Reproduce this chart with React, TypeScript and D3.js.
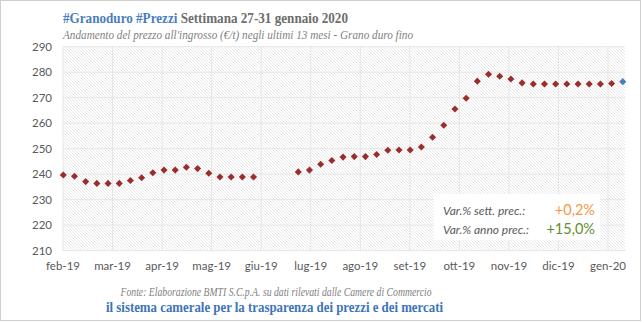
import React from "react";
import * as d3 from "d3";

// Weekly wholesale price of "Grano duro fino" (€/t), feb-2019 .. 27 gen 2020 (null = not quoted)
const prices: (number | null)[] = [
  239.7, 239.2, 237.1, 236.4, 236.4, 236.4, 237.5, 238.6, 240.6, 241.6,
  241.6, 242.7, 242.2, 240.4, 238.9, 238.9, 238.9, 238.9, null, null,
  null, 240.9, 241.6, 243.9, 245.4, 246.7, 246.9, 246.9, 247.7, 249.4,
  249.5, 249.5, 250.7, 254.5, 259.2, 265.6, 269.8, 276.5, 279.2, 278.4,
  277.3, 275.8, 275.4, 275.4, 275.4, 275.4, 275.4, 275.4, 275.4, 275.6,
  276.3,
];
const monthLabels = [
  "feb-19", "mar-19", "apr-19", "mag-19", "giu-19", "lug-19",
  "ago-19", "set-19", "ott-19", "nov-19", "dic-19", "gen-20",
];
const yTicks = [210, 220, 230, 240, 250, 260, 270, 280, 290];
const titleTag = "#Granoduro #Prezzi";
const titleRest = " Settimana 27-31 gennaio 2020";
const subtitle = "Andamento del prezzo all'ingrosso (€/t) negli ultimi 13 mesi - Grano duro fino";
const source = "Fonte: Elaborazione BMTI S.C.p.A. su dati rilevati dalle Camere di Commercio";
const slogan = "il sistema camerale per la trasparenza dei prezzi e dei mercati";
const varLabels = ["Var.% sett. prec.:", "Var.% anno prec.:"];
const varValues = ["+0,2%", "+15,0%"];

const W = 644;
const H = 323;
const plot = { left: 63, right: 625, top: 46.7, bottom: 250.7 };

export default function App() {
  const x = d3.scaleLinear().domain([0, prices.length - 1]).range([63.3, 622.8]);
  const xm = d3.scalePoint<string>().domain(monthLabels).range([63, 608]);
  const y = d3.scaleLinear().domain([210, 290]).range([plot.bottom, plot.top]);
  const diamond = d3.symbol(d3.symbolSquare, 25)()!;
  const lastIdx = prices.length - 1;
  const sans = "Lato, 'Liberation Sans', sans-serif";
  const serif = "'Liberation Serif', 'DejaVu Serif', serif";

  return (
    <svg width={W} height={H} style={{ position: "absolute", left: 0, top: 0 }}>
      <defs>
        <pattern id="hatch" width="3" height="3" patternUnits="userSpaceOnUse">
          <rect width="3" height="3" fill="#ffffff" />
          <path d="M-1,-1 L4,4 M-1,2 L1,4 M2,-1 L4,1" stroke="#e3e3e3" strokeWidth="0.8" />
        </pattern>
      </defs>
      <rect x={0} y={0} width={W} height={H} fill="#ffffff" />
      <rect x={0.5} y={0.5} width={640} height={320} fill="#ffffff" stroke="#cfcfcf" />

      {/* Titles */}
      <text x={63} y={22.5} fontFamily={serif} fontWeight="bold" fontSize={14.5} textLength={285} lengthAdjust="spacingAndGlyphs">
        <tspan fill="#4a7ebb">{titleTag}</tspan>
        <tspan fill="#6d6d6d">{titleRest}</tspan>
      </text>
      <text x={63} y={39} fontFamily={serif} fontStyle="italic" fontSize={12.5} fill="#7f7f7f" textLength={350} lengthAdjust="spacingAndGlyphs">
        {subtitle}
      </text>

      {/* Plot area */}
      <rect x={plot.left} y={plot.top} width={plot.right - plot.left} height={plot.bottom - plot.top} fill="url(#hatch)" />
      {yTicks.map((t) => (
        <line key={"h" + t} x1={plot.left} x2={plot.right} y1={y(t)} y2={y(t)} stroke="#e6e6e6" strokeWidth={1} />
      ))}
      {monthLabels.map((m) => (
        <line key={"v" + m} x1={xm(m)!} x2={xm(m)!} y1={plot.top} y2={plot.bottom} stroke="#e6e6e6" strokeWidth={1} />
      ))}

      {/* Y axis labels */}
      {yTicks.map((t) => (
        <text key={"yl" + t} x={52} y={y(t) + 4} textAnchor="end" fontFamily={sans} fontSize={11.5} fill="#595959">
          {t}
        </text>
      ))}
      {/* X axis labels */}
      {monthLabels.map((m) => (
        <text key={"xl" + m} x={xm(m)!} y={270} textAnchor="middle" fontFamily={sans} fontSize={11.5} fill="#595959">
          {m}
        </text>
      ))}

      {/* Points */}
      {prices.map((v, i) =>
        v == null ? null : (
          <path
            key={"p" + i}
            d={diamond}
            transform={`translate(${x(i)},${y(v)}) rotate(45)`}
            fill={i === lastIdx ? "#4a7ebb" : "#9b2d2d"}
          />
        )
      )}

      {/* Variation box */}
      <rect x={434} y={194} width={166} height={46} fill="#ffffff" />
      {varLabels.map((l, i) => (
        <text key={"vl" + i} x={443} y={214.5 + i * 19} fontFamily={sans} fontStyle="italic" fontSize={12} fill="#595959">
          {l}
        </text>
      ))}
      {varValues.map((v, i) => (
        <text key={"vv" + i} x={595} y={215 + i * 19} textAnchor="end" fontFamily={sans} fontSize={14.5} fill={i === 0 ? "#f79646" : "#5f8f2f"}>
          {v}
        </text>
      ))}

      {/* Footer */}
      <text x={276} y={296} textAnchor="middle" fontFamily={serif} fontStyle="italic" fontSize={12} fill="#7f7f7f" textLength={311} lengthAdjust="spacingAndGlyphs">
        {source}
      </text>
      <text x={274.5} y={311.5} textAnchor="middle" fontFamily={serif} fontWeight="bold" fontSize={15.5} fill="#3d74b8" textLength={337} lengthAdjust="spacingAndGlyphs">
        {slogan}
      </text>
    </svg>
  );
}
